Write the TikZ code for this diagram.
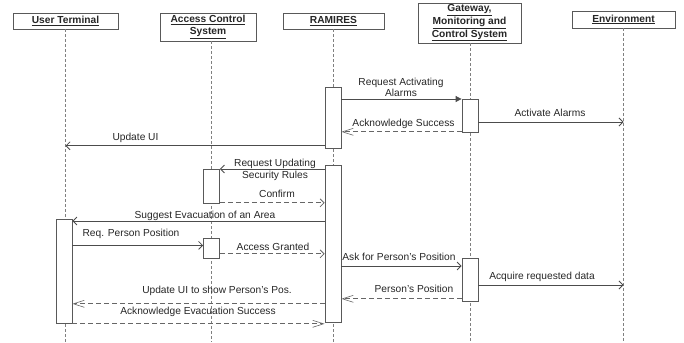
\documentclass[tikz,border=0pt]{standalone}
\usepackage{fontspec}
\setmainfont{Liberation Sans}
\usetikzlibrary{arrows.meta,calc}

\begin{document}
\begin{tikzpicture}[x=1bp,y=-1bp,
  lbl/.style={inner sep=0, align=center, text=black!85,
    font=\fontsize{10.2bp}{11.6bp}\selectfont},
  head/.style={draw=black!65, fill=white, line width=0.8bp, inner sep=0,
    align=center, text=black!85,
    font=\fontsize{10.2bp}{12.6bp}\selectfont\bfseries},
  act/.style={draw=black!65, fill=white, line width=0.8bp,
    minimum width=16bp, inner sep=0, anchor=north},
  life/.style={draw=black!50, line width=0.7bp, dash pattern=on 3bp off 2bp},
  call/.style={draw=black!70, line width=0.8bp,
    -{Triangle[length=6bp,width=6bp]}},
  msg/.style={draw=black!70, line width=0.8bp,
    -{Straight Barb[length=4bp,width=8bp]}},
  reply/.style={draw=black!60, line width=0.8bp, dash pattern=on 5bp off 3bp,
    -{Straight Barb[length=4bp,width=8bp]}},
  replyv/.style={draw=black!60, line width=0.8bp, dash pattern=on 5bp off 3bp,
    -{Straight Barb[length=11bp,width=7bp,line width=0.6bp]}},
]
\useasboundingbox (0,0) rectangle (684,342);

% participants
\node[head, minimum width=105bp, minimum height=16bp] (ut) at (65.5,21)
  {\underline{User Terminal}};
\node[head, minimum width=96bp, minimum height=28bp] (acs) at (208,27)
  {\underline{Access Control}\\\underline{System}};
\node[head, minimum width=101bp, minimum height=16bp] (ram) at (333.5,21)
  {\underline{RAMIRES}};
\node[head, minimum width=103bp, minimum height=40bp] (gw) at (469.5,23)
  {\underline{Gateway,}\\\underline{Monitoring and}\\\underline{Control System}};
\node[head, minimum width=103bp, minimum height=17bp] (env) at (623.5,19.5)
  {\underline{Environment}};

% lifeline ends
\coordinate (utEnd) at (65.5,342);
\coordinate (acsEnd) at (211.5,342);
\coordinate (ramEnd) at (333,342);
\coordinate (gwEnd) at (470,342);
\coordinate (envEnd) at (623.5,342);

\draw[life] (utEnd |- ut.south) -- (utEnd);
\draw[life] (acsEnd |- acs.south) -- (acsEnd);
\draw[life] (ramEnd |- ram.south) -- (ramEnd);
\draw[life] (gwEnd |- gw.south) -- (gwEnd);
\draw[life] (envEnd |- env.south) -- (envEnd);

% activation bars
\node[act, minimum height=61bp]  (r1) at (333,87)  {};
\node[act, minimum height=157bp] (r2) at (333,165) {};
\node[act, minimum height=33bp]  (g1) at (470,99)  {};
\node[act, minimum height=43bp]  (g2) at (470,258) {};
\node[act, minimum height=34bp]  (a1) at (211.5,169) {};
\node[act, minimum height=20bp]  (a2) at (211.5,238) {};
\node[act, minimum height=104bp] (u1) at (64,219)  {};

% messages
\draw[call] (r1.east |- g1.north) -- (g1.north west);
\node[lbl] (t1) at (401,87.5) {Request Activating\\Alarms};

\draw[msg] ([yshift=-23bp]g1.north east) -- ([yshift=-23bp]g1.north east -| envEnd);
\node[lbl] (t2) at (550,113) {Activate Alarms};

\draw[replyv] ([yshift=1bp]g1.south west) -- ([yshift=1bp]g1.south west -| r1.east);
\node[lbl] (t3) at (403.5,123.5) {Acknowledge Success};

\draw[msg] ([yshift=3bp]r1.south west) -- ([yshift=3bp]r1.south west -| utEnd);
\node[lbl] (t4) at (135.5,138) {Update UI};

\draw[msg] (r2.west |- a1.north) -- (a1.north east);
\node[lbl] (t5) at (275,170) {Request Updating\\Security Rules};

\draw[reply] ([yshift=1bp]a1.south east) -- ([yshift=1bp]a1.south east -| r2.west);
\node[lbl] (t6) at (277,193.5) {Confirm};

\draw[msg] ([yshift=-2bp]u1.north east -| r2.west) -- ([yshift=-2bp]u1.north east);
\node[lbl] (t7) at (205,216) {Suggest Evacuation of an Area};

\draw[msg] ([yshift=3bp]a2.west -| u1.east) -- ([yshift=3bp]a2.west);
\node[lbl] (t8) at (131,234) {Req. Person Position};

\draw[reply] ([yshift=5bp]a2.south east) -- ([yshift=5bp]a2.south east -| r2.west);
\node[lbl] (t9) at (273,247) {Access Granted};

\draw[msg] ([yshift=-8bp]g2.north west -| r2.east) -- ([yshift=-8bp]g2.north west);
\node[lbl] (t10) at (399,257) {Ask for Person's Position};

\draw[msg] ([yshift=-27bp]g2.north east) -- ([yshift=-27bp]g2.north east -| envEnd);
\node[lbl] (t11) at (542,277) {Acquire requested data};

\draw[replyv] ([yshift=3bp]g2.south west) -- ([yshift=3bp]g2.south west -| r2.east);
\node[lbl] (t12) at (414,288.5) {Person's Position};

\draw[replyv] ([yshift=19bp]r2.south west) -- ([yshift=19bp]r2.south west -| u1.east);
\node[lbl] (t13) at (217,290.5) {Update UI to show Person's Pos.};

\draw[replyv] (u1.south east) -- (u1.south east -| r2.west);
\node[lbl] (t14) at (198,312) {Acknowledge Evacuation Success};
\end{tikzpicture}
\end{document}
